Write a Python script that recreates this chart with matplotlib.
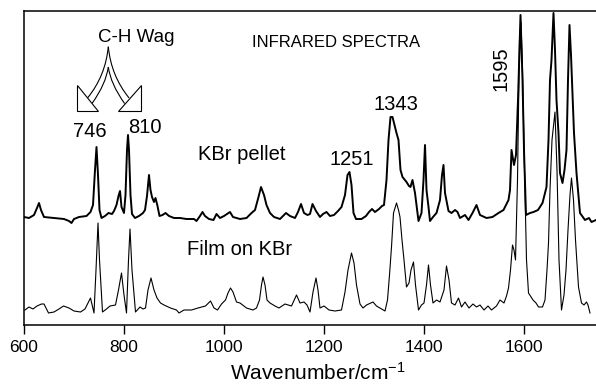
import numpy as np
import matplotlib
matplotlib.use("Agg")
import matplotlib.pyplot as plt
from matplotlib.patches import Polygon, PathPatch
from matplotlib.path import Path

plt.rcParams["font.family"] = ["Liberation Sans", "DejaVu Sans"]
plt.rcParams["mathtext.default"] = "regular"

# KBr pellet spectrum (upper trace), wavenumber in cm-1 and absorbance (arb. units, offset)
pellet_wn = [600, 610, 620, 626, 630, 634, 640, 660, 680, 690, 695, 700, 710, 725, 733, 738,
             742, 745, 748, 751, 755, 762, 769, 776, 780, 785, 789, 792, 795, 800, 803, 806,
             808, 810, 813, 816, 822, 830, 838, 842, 846, 850, 853, 856, 860, 863, 867, 871,
             877, 883, 890, 900, 912, 925, 940, 945, 952, 957, 962, 970, 979, 985, 992, 1000,
             1006, 1012, 1018, 1032, 1045, 1055, 1062, 1069, 1074, 1080, 1085, 1092, 1100, 1112,
             1124, 1132, 1142, 1148, 1154, 1160, 1167, 1172, 1177, 1184, 1192, 1198, 1205, 1212,
             1220, 1228, 1235, 1242, 1247, 1251, 1255, 1259, 1264, 1275, 1284, 1290, 1296, 1302,
             1310, 1316, 1320, 1325, 1329, 1333, 1337, 1341, 1345, 1349, 1353, 1357, 1365, 1370,
             1373, 1377, 1382, 1389, 1395, 1399, 1402, 1405, 1409, 1412, 1418, 1425, 1432, 1436,
             1439, 1442, 1449, 1455, 1462, 1467, 1472, 1482, 1489, 1497, 1505, 1512, 1525, 1537,
             1549, 1559, 1569, 1572, 1575, 1580, 1584, 1588, 1593, 1597, 1600, 1604, 1612, 1619,
             1628, 1637, 1645, 1649, 1652, 1655, 1659, 1662, 1665, 1669, 1672, 1677, 1681, 1685,
             1688, 1691, 1694, 1697, 1700, 1705, 1712, 1722, 1730, 1735, 1744]
pellet_abs = [108, 107, 110, 117, 122, 115, 108, 107, 106, 104, 102, 106, 108, 109, 113, 120,
              155, 178, 150, 115, 107, 109, 112, 111, 114, 120, 129, 134, 118, 112, 130, 175,
              190, 175, 130, 111, 107, 109, 112, 115, 129, 150, 135, 128, 123, 127, 119, 109,
              110, 112, 109, 107, 107, 106, 106, 104, 109, 113, 109, 106, 105, 111, 107, 109,
              111, 113, 108, 106, 107, 112, 115, 128, 138, 130, 120, 112, 108, 106,
              112, 109, 107, 113, 121, 112, 110, 111, 121, 114, 108, 111, 113, 109,
              110, 114, 118, 130, 150, 153, 140, 112, 106, 106, 109, 113, 116, 113,
              116, 119, 120, 145, 185, 208, 208, 200, 192, 185, 155, 148, 143, 139,
              138, 145, 132, 104, 112, 145, 180, 135, 118, 104, 108, 112, 125, 150,
              160, 132, 114, 112, 115, 113, 107, 110, 105, 112, 120, 110, 107, 108,
              112, 115, 125, 135, 175, 160, 170, 225, 310, 245, 175, 110, 112, 113,
              115, 122, 138, 185, 245, 265, 312, 275, 225, 192, 152, 142, 155, 175,
              245, 300, 270, 230, 192, 152, 112, 105, 107, 103, 105]

# Film on KBr spectrum (lower trace)
film_wn = [602, 610, 618, 626, 635, 640, 649, 660, 670, 679, 690, 700, 713, 722, 733, 740,
           744, 748, 751, 757, 765, 772, 783, 789, 795, 800, 805, 809, 812, 816, 823, 832,
           838, 843, 848, 854, 860, 866, 873, 880, 893, 905, 910, 920, 935, 948, 963, 973,
           980, 987, 995, 1003, 1008, 1013, 1018, 1025, 1032, 1045, 1058, 1065, 1071, 1075,
           1078, 1082, 1086, 1092, 1102, 1110, 1122, 1135, 1145, 1152, 1160, 1166, 1172, 1178,
           1184, 1188, 1192, 1200, 1210, 1222, 1235, 1242, 1248, 1255, 1260, 1265, 1272, 1278,
           1285, 1298, 1305, 1315, 1322, 1327, 1331, 1335, 1339, 1345, 1349, 1352, 1356, 1360,
           1365, 1370, 1374, 1379, 1383, 1389, 1395, 1400, 1405, 1409, 1413, 1418, 1425, 1432,
           1440, 1445, 1450, 1455, 1462, 1469, 1475, 1482, 1490, 1498, 1505, 1512, 1520, 1528,
           1535, 1545, 1552, 1560, 1565, 1569, 1573, 1577, 1580, 1583, 1587, 1591, 1594, 1597,
           1601, 1605, 1609, 1618, 1624, 1629, 1637, 1642, 1646, 1649, 1652, 1656, 1662, 1666,
           1670, 1675, 1680, 1684, 1688, 1692, 1695, 1699, 1703, 1709, 1715, 1720, 1725, 1728,
           1732]
film_abs = [15, 18, 16, 19, 21, 21, 12, 13, 16, 19, 17, 14, 13, 16, 27, 12,
            55, 102, 65, 13, 16, 19, 20, 35, 52, 30, 12, 65, 96, 55, 13, 18,
            16, 17, 35, 47, 35, 27, 22, 20, 17, 15, 12, 15, 15, 17, 19, 24,
            17, 15, 21, 25, 32, 37, 33, 23, 22, 17, 15, 17, 25, 40,
            48, 40, 25, 22, 19, 17, 21, 19, 30, 22, 23, 20, 13, 33,
            47, 35, 17, 19, 15, 14, 15, 33, 55, 72, 62, 40, 21, 17,
            20, 23, 19, 16, 14, 25, 50, 78, 112, 122, 115, 108, 85, 65,
            38, 42, 55, 63, 40, 15, 20, 22, 40, 60, 40, 22, 25, 23,
            35, 59, 45, 22, 20, 27, 18, 23, 17, 21, 18, 20, 15, 19,
            15, 19, 25, 22, 29, 37, 55, 80, 75, 65, 145, 285, 303, 255,
            155, 65, 32, 25, 22, 18, 18, 25, 55, 82, 135, 185, 213, 155,
            65, 15, 30, 55, 95, 130, 147, 125, 85, 38, 22, 20, 23, 20,
            12]

# peak labels: (text, wavenumber, height)
peak_labels = [("746", 732, 188), ("810", 841, 192), ("1251", 1255, 160), ("1343", 1343, 215)]

fig = plt.figure(figsize=(5.96, 3.85), dpi=100)
ax = fig.add_axes([24 / 596, 60 / 385, 572 / 596, 314 / 385])

ax.plot(pellet_wn, pellet_abs, color="black", lw=1.4)
ax.plot(film_wn, film_abs, color="black", lw=0.8)

ax.set_xlim(600, 1744)
ax.set_ylim(0, 314)
ax.set_xticks([600, 800, 1000, 1200, 1400, 1600])
ax.set_yticks([])
ax.tick_params(axis="x", direction="out", length=6.5, width=1, pad=4, labelsize=12.5)
ax.spines["right"].set_visible(False)
for s in ["left", "top", "bottom"]:
    ax.spines[s].set_linewidth(1.1)

ax.set_xlabel("Wavenumber/cm$^{-1}$", fontsize=15)
ax.xaxis.set_label_coords(0.513, -0.118)

for txt, xw, yh in peak_labels:
    ax.text(xw, yh, txt, fontsize=14.5, ha="center", va="baseline")
ax.text(1555, 256, "1595", fontsize=14.5, rotation=90, ha="center", va="center")
ax.text(1035, 165, "KBr pellet", fontsize=14.5, ha="center", va="baseline")
ax.text(1032, 70, "Film on KBr", fontsize=14.5, ha="center", va="baseline")
ax.text(1224, 278, "INFRARED SPECTRA", fontsize=12, ha="center", va="baseline")
ax.text(825, 283, "C-H Wag", fontsize=13.5, ha="center", va="baseline")

# forked hollow arrow for the C-H wag bands
curves = [
    [(768.6, 278.3), (763, 249), (727, 227)],
    [(768.6, 258), (764, 241), (736, 221.5)],
    [(768.6, 278.3), (774.2, 249), (810.2, 227)],
    [(768.6, 258), (773.2, 241), (801.2, 221.5)],
]
for pts in curves:
    path = Path(pts, [Path.MOVETO, Path.CURVE3, Path.CURVE3])
    ax.add_patch(PathPatch(path, fill=False, lw=0.8, color="black"))
ax.add_patch(Polygon([(705.4, 240), (705.4, 214), (748.6, 214)], closed=True,
                     facecolor="white", edgecolor="black", lw=0.8))
ax.add_patch(Polygon([(788.6, 214), (833.4, 214), (833.4, 240)], closed=True,
                     facecolor="white", edgecolor="black", lw=0.8))

fig.savefig("out.png", dpi=100)
